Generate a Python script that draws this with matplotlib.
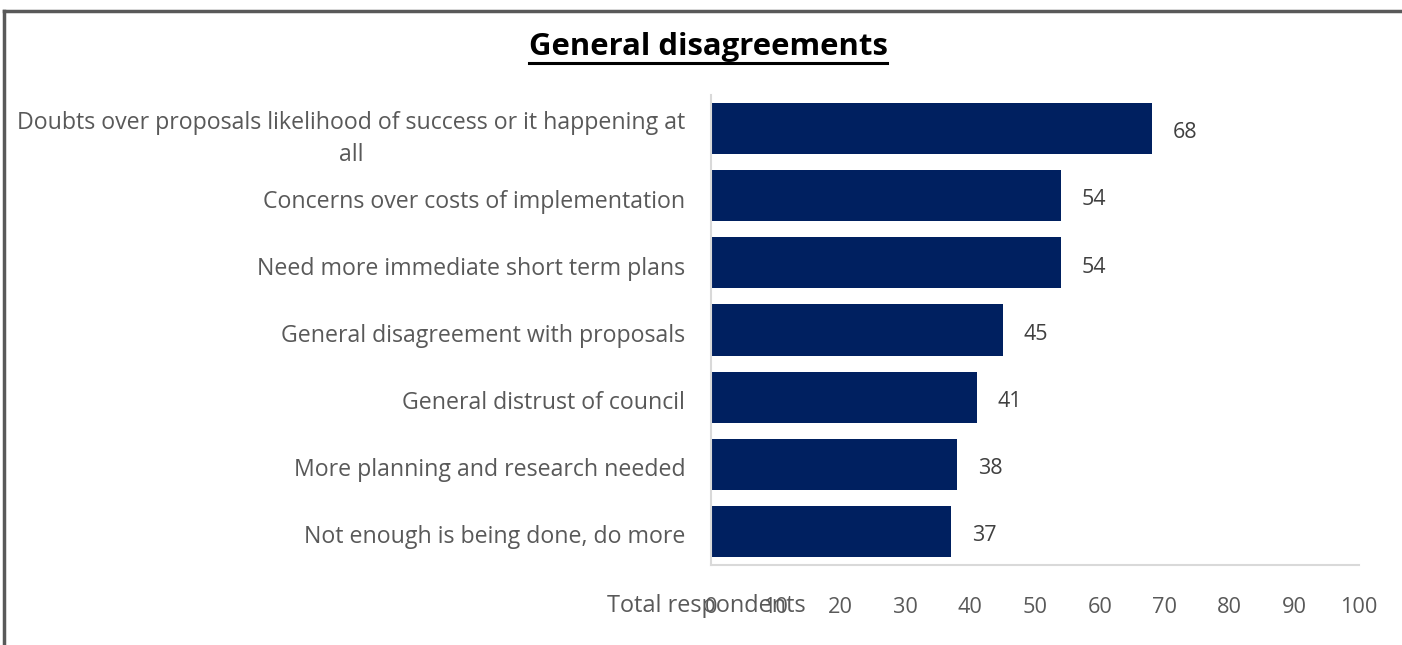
import matplotlib.pyplot as plt
import matplotlib.transforms as mtransforms
from matplotlib.lines import Line2D

categories = [
    "Doubts over proposals likelihood of success or it happening at\nall",
    "Concerns over costs of implementation",
    "Need more immediate short term plans",
    "General disagreement with proposals",
    "General distrust of council",
    "More planning and research needed",
    "Not enough is being done, do more",
]
values = [68, 54, 54, 45, 41, 38, 37]
xticks = [0, 10, 20, 30, 40, 50, 60, 70, 80, 90, 100]

plt.rcParams['font.family'] = ['Open Sans', 'DejaVu Sans']

fig = plt.figure(figsize=(14.02, 6.45), dpi=100)
ax = fig.add_axes([711 / 1402, 1 - 565 / 645, 648 / 1402, 470 / 645])

ypos = list(range(len(categories)))
ax.barh(ypos, values, height=0.76, color='#002060')
for y, v in zip(ypos, values):
    ax.annotate(str(v), (v, y), xytext=(15, -3), textcoords='offset points',
                ha='left', va='center', fontsize=15.5, color='#404040')

ax.set_xlim(0, 100)
ax.set_ylim(6.5, -0.5)
ax.set_xticks(xticks)
ax.set_yticks(ypos)
ax.set_yticklabels(categories, fontsize=16.7, color='#595959',
                   multialignment='center', linespacing=1.45)
ax.tick_params(axis='x', length=0, pad=23, labelsize=15.7, labelcolor='#595959')
ax.tick_params(axis='y', length=0, pad=18.5)
shift = mtransforms.ScaledTranslation(0, -3 / 100, fig.dpi_scale_trans)
for lab in ax.get_yticklabels():
    lab.set_transform(lab.get_transform() + shift)
for s in ['top', 'right']:
    ax.spines[s].set_visible(False)
for s in ['left', 'bottom']:
    ax.spines[s].set_color('#d9d9d9')
    ax.spines[s].set_linewidth(1.5)

fig.text(706 / 1402, 1 - 606 / 645, "Total respondents", ha='center', va='center',
         fontsize=16.9, color='#595959')

# title with underline
title = fig.text(708 / 1402, 1 - 47 / 645, "General disagreements", ha='center',
                 va='center', fontsize=22.4, fontweight='bold', color='black')
fig.canvas.draw()
bb = title.get_window_extent().transformed(fig.transFigure.inverted())
fig.add_artist(Line2D([bb.x0, bb.x1], [1 - 63 / 645] * 2, transform=fig.transFigure,
                      color='black', lw=2.2))

# outer frame (top and left edges)
fig.add_artist(Line2D([4 / 1402, 1], [1 - 11 / 645] * 2, transform=fig.transFigure,
                      color='#595959', lw=2.5))
fig.add_artist(Line2D([4 / 1402] * 2, [0, 1 - 11 / 645], transform=fig.transFigure,
                      color='#595959', lw=2.5))

fig.savefig('out.png', dpi=100)
